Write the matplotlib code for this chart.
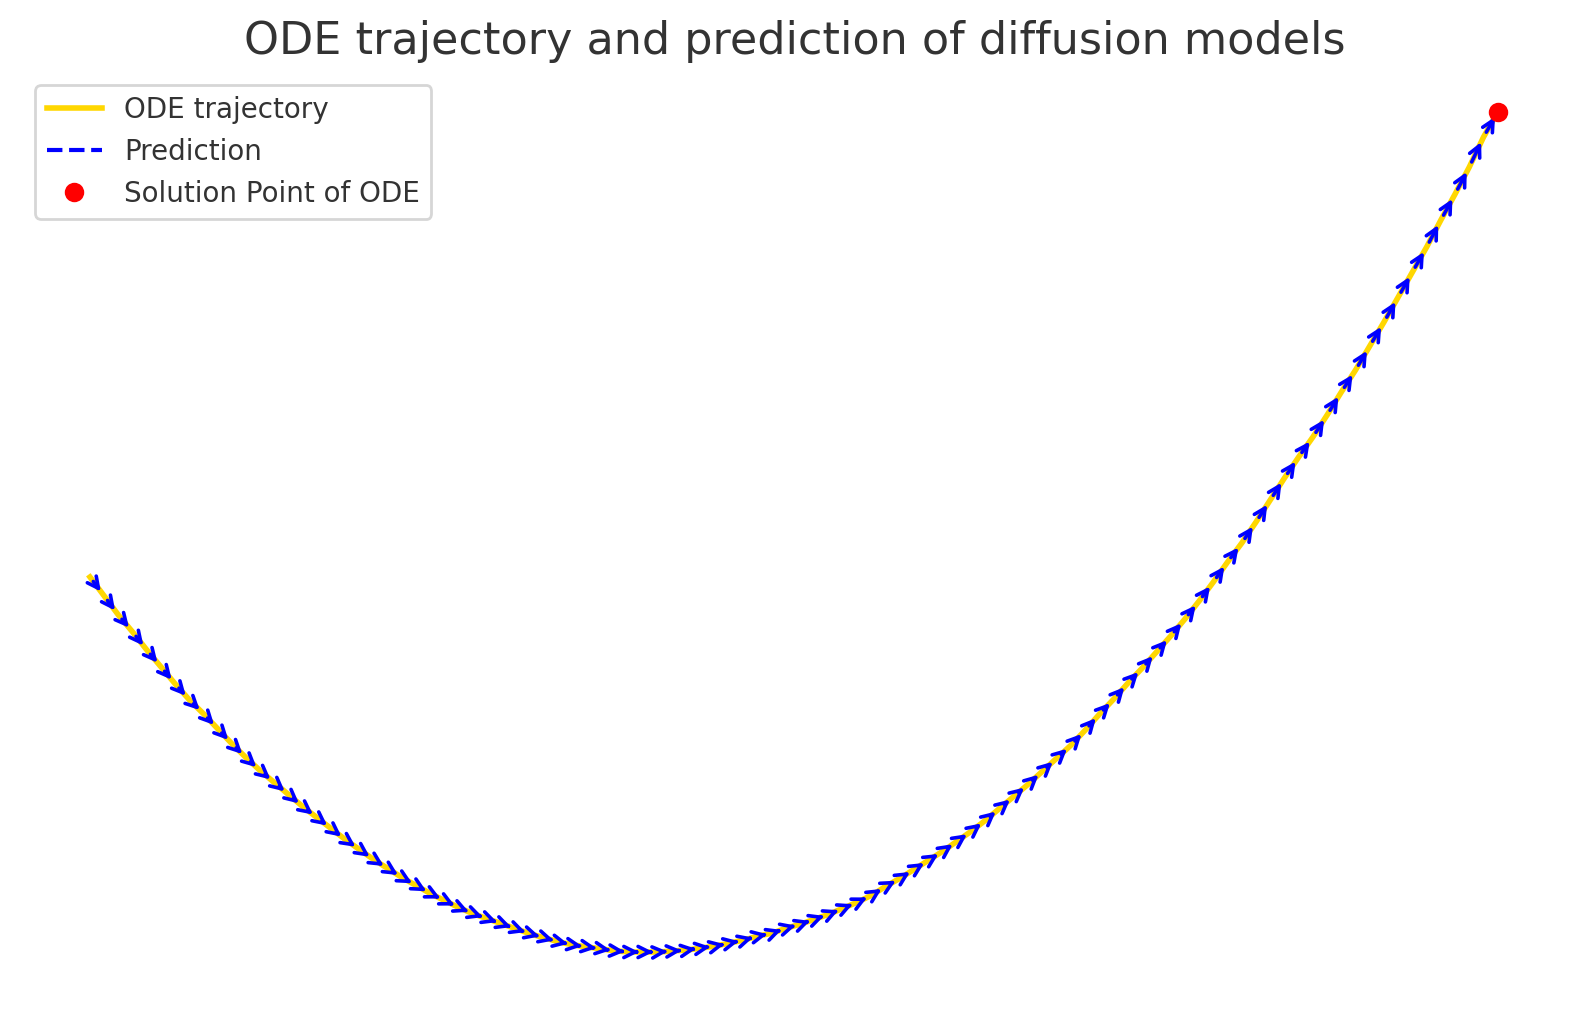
import numpy as np
import matplotlib
matplotlib.use("Agg")
import matplotlib.pyplot as plt

# Trayectoria ODE (100 puntos equiespaciados en x)
ODE_Y = [
    4.37, 4.18, 3.99, 3.82, 3.64, 3.47, 3.30, 3.14, 3.00, 2.85,
    2.70, 2.56, 2.43, 2.31, 2.19, 2.07, 1.96, 1.85, 1.74, 1.64,
    1.54, 1.45, 1.36, 1.28, 1.20, 1.13, 1.06, 1.00, 0.95, 0.90,
    0.85, 0.80, 0.76, 0.72, 0.69, 0.67, 0.65, 0.63, 0.62, 0.62,
    0.62, 0.63, 0.64, 0.66, 0.68, 0.71, 0.74, 0.78, 0.81, 0.86,
    0.90, 0.95, 1.00, 1.06, 1.12, 1.19, 1.28, 1.36, 1.45, 1.54,
    1.63, 1.73, 1.83, 1.94, 2.06, 2.18, 2.30, 2.43, 2.56, 2.69,
    2.84, 3.00, 3.15, 3.31, 3.46, 3.62, 3.78, 3.95, 4.13, 4.32,
    4.52, 4.71, 4.92, 5.14, 5.36, 5.57, 5.77, 5.99, 6.22, 6.44,
    6.68, 6.92, 7.17, 7.42, 7.67, 7.94, 8.20, 8.47, 8.77, 9.02,
]
X_START, X_END = -1.0, 1.0

TITLE = "ODE trajectory and prediction of diffusion models"
LABEL_ODE = "ODE trajectory"
LABEL_PRED = "Prediction"
LABEL_SOL = "Solution Point of ODE"

plt.rcParams["text.color"] = ".2"

x = np.linspace(X_START, X_END, len(ODE_Y))
y = np.array(ODE_Y)

fig = plt.figure(figsize=(7.945, 5.07), dpi=200)
ax = fig.add_axes([0, 0, 1, 1])

ax.plot(x, y, color="gold", lw=2, label=LABEL_ODE, zorder=1)

# flechas de predicción entre puntos consecutivos
for i in range(len(x) - 1):
    ax.annotate(
        "",
        xy=(x[i + 1], y[i + 1]),
        xytext=(x[i], y[i]),
        arrowprops=dict(arrowstyle="->", color="blue", lw=1.3),
        zorder=2,
    )
ax.plot([], [], color="blue", ls="--", lw=1.5, label=LABEL_PRED)

ax.plot(x[-1], y[-1], "o", color="red", ms=6, zorder=4, label=LABEL_SOL)

ax.set_xlim(-1.1278, 1.1296)
ax.set_ylim(0, 10.14)
ax.axis("off")

ax.legend(
    loc="upper left",
    bbox_to_anchor=(0.0223, 0.9162),
    bbox_transform=fig.transFigure,
    borderaxespad=0,
)
fig.text(0.5, 1 - 54 / 1014, TITLE, ha="center", va="baseline", fontsize=16)

fig.savefig("out.png", dpi=200)
